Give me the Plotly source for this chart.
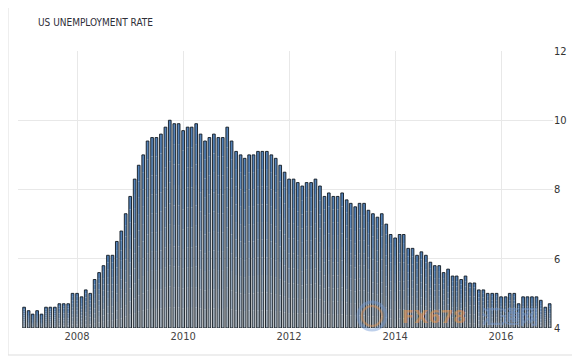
import pandas as pd
import plotly.graph_objects as go

# Monthly US unemployment rate, Jan 2007 - Dec 2016
rate_2007 = [4.6, 4.5, 4.4, 4.5, 4.4, 4.6, 4.6, 4.6, 4.7, 4.7, 4.7, 5.0]
rate_2008 = [5.0, 4.9, 5.1, 5.0, 5.4, 5.6, 5.8, 6.1, 6.1, 6.5, 6.8, 7.3]
rate_2009 = [7.8, 8.3, 8.7, 9.0, 9.4, 9.5, 9.5, 9.6, 9.8, 10.0, 9.9, 9.9]
rate_2010 = [9.7, 9.8, 9.8, 9.9, 9.6, 9.4, 9.5, 9.6, 9.5, 9.5, 9.8, 9.4]
rate_2011 = [9.1, 9.0, 8.9, 9.0, 9.0, 9.1, 9.1, 9.1, 9.0, 8.9, 8.7, 8.5]
rate_2012 = [8.3, 8.3, 8.2, 8.1, 8.2, 8.2, 8.3, 8.1, 7.8, 7.9, 7.8, 7.8]
rate_2013 = [7.9, 7.7, 7.6, 7.5, 7.6, 7.6, 7.4, 7.3, 7.2, 7.3, 7.0, 6.7]
rate_2014 = [6.6, 6.7, 6.7, 6.3, 6.3, 6.1, 6.2, 6.1, 5.9, 5.8, 5.8, 5.6]
rate_2015 = [5.7, 5.5, 5.5, 5.4, 5.5, 5.3, 5.3, 5.1, 5.1, 5.0, 5.0, 5.0]
rate_2016 = [4.9, 4.9, 5.0, 5.0, 4.7, 4.9, 4.9, 4.9, 4.9, 4.8, 4.6, 4.7]

rates = (rate_2007 + rate_2008 + rate_2009 + rate_2010 + rate_2011 +
         rate_2012 + rate_2013 + rate_2014 + rate_2015 + rate_2016)
months = pd.date_range("2007-01-01", periods=len(rates), freq="MS")

y_ticks = [4, 6, 8, 10, 12]
x_ticks = ["2008-01-01", "2010-01-01", "2012-01-01", "2014-01-01", "2016-01-01"]
x_tick_labels = ["2008", "2010", "2012", "2014", "2016"]
title_text = "US UNEMPLOYMENT RATE"

FONT = "DejaVu Sans Condensed, Liberation Sans Narrow, Liberation Sans, sans-serif"
AXIS_MIN = 4

# page body has an 8px margin; figure is sized/offset to compensate
W, H = 572, 348
L, R, T, B = 10, 27, 43, 28
PW, PH = W - L - R, H - T - B


def px(x):
    return (x - 8 - L) / PW


def py(y):
    return (H - B - (y - 8)) / PH


def mix(c0, c1, t):
    return "rgb(%d,%d,%d)" % tuple(round(a + (b - a) * t) for a, b in zip(c0, c1))


BOTTOM_C = (168, 178, 188)
TOP_C = (80, 128, 185)
N_BANDS = 10

fig = go.Figure()
# vertical gradient inside each bar, built as stacked bands of the bar's own height
for k in range(N_BANDS):
    seg = [(v - AXIS_MIN) / N_BANDS for v in rates]
    base = [AXIS_MIN + s * k for s in seg]
    fig.add_trace(go.Bar(
        x=months, y=seg, base=base,
        marker=dict(color=mix(BOTTOM_C, TOP_C, (k + 0.5) / N_BANDS), line=dict(width=0)),
        hoverinfo="skip",
    ))
# outline of each bar
fig.add_trace(go.Bar(
    x=months, y=[v - AXIS_MIN for v in rates], base=AXIS_MIN,
    marker=dict(color="rgba(0,0,0,0)", line=dict(color="#101820", width=0.9)),
    customdata=rates, hovertemplate="%{x|%b %Y}: %{customdata}<extra></extra>",
))

fig.update_layout(
    width=W, height=H,
    margin=dict(l=L, r=R, t=T, b=B),
    paper_bgcolor="white", plot_bgcolor="white",
    showlegend=False,
    barmode="overlay",
    bargap=0.34,
    font=dict(family=FONT, size=11, color="#333333"),
    xaxis=dict(
        type="date",
        range=["2006-11-20", "2016-12-24"],
        tickvals=x_ticks, ticktext=x_tick_labels,
        showgrid=True, gridcolor="#e8e8e8", gridwidth=1,
        showline=False, zeroline=False, ticks="",
        tickfont=dict(family=FONT, size=11, color="#444444"),
    ),
    yaxis=dict(
        side="right", range=[4, 12], tickvals=y_ticks,
        showgrid=True, gridcolor="#e8e8e8", gridwidth=1,
        showline=False, zeroline=False, ticks="",
        tickfont=dict(family=FONT, size=11, color="#333333"),
    ),
    annotations=[
        dict(text=title_text, xref="paper", yref="paper",
             x=px(36), y=py(22),
             xanchor="left", yanchor="middle", showarrow=False,
             font=dict(family=FONT, size=10, color="#2e2e38")),
        dict(text="<b>FX678</b>", xref="paper", yref="paper",
             x=px(400), y=py(316),
             xanchor="left", yanchor="middle", showarrow=False,
             font=dict(family="DejaVu Sans", size=18, color="rgba(245,150,70,0.5)")),
        dict(text="<b>汇通网</b>", xref="paper", yref="paper",
             x=px(480), y=py(315),
             xanchor="left", yanchor="middle", showarrow=False,
             font=dict(family="Noto Sans CJK SC", size=19, color="rgba(120,160,220,0.45)")),
    ],
    shapes=[
        dict(type="rect", xref="paper", yref="paper",
             x0=px(8), x1=px(579),
             y0=py(355), y1=py(2),
             line=dict(color="#dddddd", width=1), layer="below"),
        dict(type="circle", xref="paper", yref="paper",
             x0=px(358), x1=px(386), y0=py(330), y1=py(302),
             line=dict(color="rgba(110,150,210,0.45)", width=3)),
        dict(type="circle", xref="paper", yref="paper",
             x0=px(362), x1=px(382), y0=py(326), y1=py(306),
             line=dict(color="rgba(245,150,70,0.4)", width=2)),
    ],
)

fig.write_html("out.html")
